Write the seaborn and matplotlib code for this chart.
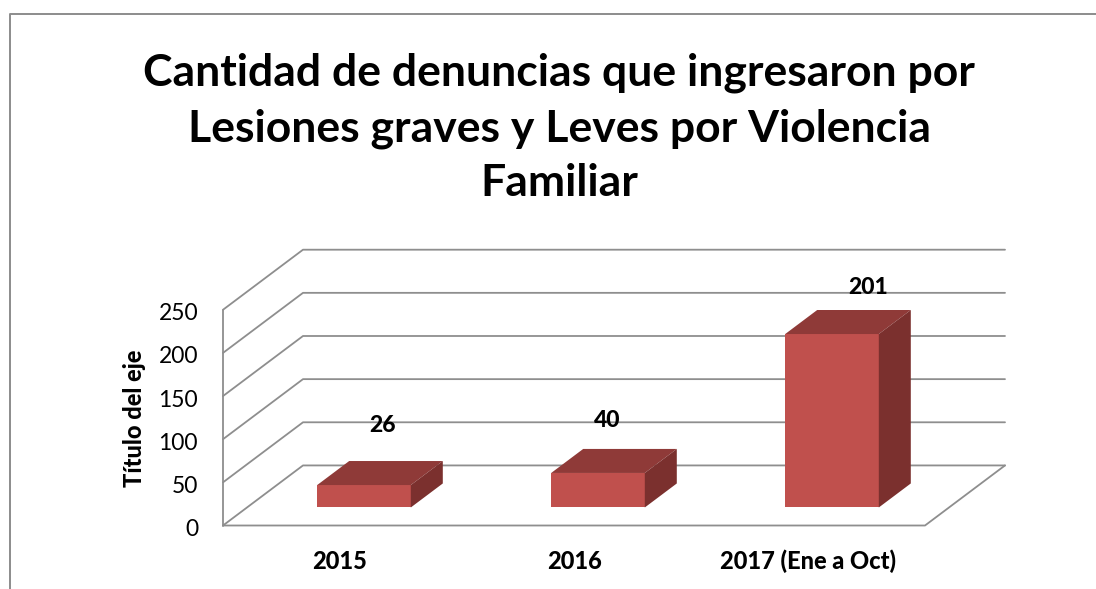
import matplotlib
matplotlib.use("Agg")
import matplotlib.pyplot as plt
from matplotlib.lines import Line2D
from matplotlib.transforms import ScaledTranslation
import seaborn as sns
import pandas as pd

categories = ["2015", "2016", "2017 (Ene a Oct)"]
values = [26, 40, 201]
y_ticks = [0, 50, 100, 150, 200, 250]
title = "Cantidad de denuncias que ingresaron por\nLesiones graves y Leves por Violencia\nFamiliar"
y_title = "Título del eje"

W, H = 1096, 589
# pixel geometry of the front plane of the fake 3D box
left, right, floor, top = 223, 1005, 525.5, 249.7
px_per_cat = 234.0
px_per_val = 0.862
depth_x = 80 / px_per_cat   # wall depth in data units
depth_y = 60 / px_per_val
grid_col = "#8e8e8e"

sns.set_style("white")
plt.rcParams["font.family"] = ["Lato", "DejaVu Sans"]

df = pd.DataFrame({"periodo": categories, "denuncias": values})

fig = plt.figure(figsize=(W / 100, H / 100), dpi=100)
ax = fig.add_axes([left / W, 1 - floor / H, (right - left) / W, (floor - top) / H])
sns.barplot(data=df, x="periodo", y="denuncias", color="#C0504D", saturation=1,
            width=0.4, ax=ax, zorder=3, edgecolor="none", linewidth=0)

x0 = -0.5
x1 = 2.5
ax.set_xlim(x0, x1 + depth_x)
ax.set_ylim(0, depth_y + 250)
sns.despine(ax=ax, left=True, bottom=True)

# walls
for v in y_ticks:
    ax.plot([x0, x0 + depth_x, x1 + depth_x], [v, v + depth_y, v + depth_y],
            color=grid_col, lw=1.3, zorder=1, clip_on=False)
ax.plot([x0, x0], [0, 250], color=grid_col, lw=1.3, zorder=1, clip_on=False)
ax.plot([x0, x1, x1 + depth_x], [0, 0, depth_y], color=grid_col, lw=1.3, zorder=1, clip_on=False)

# bars sit at 30% of the floor depth and take 40% of it
label_offsets = [(19, 60), (9, 52), (36, 47)]
for bar, val, off in zip(ax.patches, values, label_offsets):
    bar.set_x(bar.get_x() + 0.3 * depth_x)
    bar.set_y(0.3 * depth_y)
    bx, by = bar.get_x(), bar.get_y()
    bw, bh = bar.get_width(), bar.get_height()
    dx, dy = 0.4 * depth_x, 0.4 * depth_y
    ax.fill([bx, bx + bw, bx + bw + dx, bx + dx],
            [by + bh, by + bh, by + bh + dy, by + bh + dy],
            color="#8F3A38", lw=0, zorder=3)
    ax.fill([bx + bw, bx + bw + dx, bx + bw + dx, bx + bw],
            [by, by + dy, by + bh + dy, by + bh],
            color="#7B302E", lw=0, zorder=3)
    ax.annotate(str(val), (bx + bw / 2, by + bh), xytext=off, textcoords="offset pixels",
                ha="center", va="center", fontsize=16.5, fontweight=900, color="black", zorder=4)

ax.set_yticks(y_ticks)
ax.set_yticklabels([str(v) for v in y_ticks], fontsize=16.5, color="black")
ax.tick_params(axis="y", length=0, pad=18)
ax.tick_params(axis="x", length=0, pad=17.5)
shift = ScaledTranslation(0, -2 / 100, fig.dpi_scale_trans)
for lab in ax.get_yticklabels():
    lab.set_transform(lab.get_transform() + shift)
for lab in ax.get_xticklabels():
    lab.set_fontsize(17)
    lab.set_fontweight(900)
    lab.set_color("black")
ax.set_xlabel("")
ax.set_ylabel("")
fig.text(134 / W, 1 - 418 / H, y_title, rotation=90, ha="center", va="center",
         fontsize=17, fontweight=900, color="black")

fig.text(559 / W, 1 - 128 / H, title, ha="center", va="center", fontsize=32,
         fontweight="bold", color="black", linespacing=1.45)

# chart frame, cut off by the crop on the right and bottom
fig.add_artist(Line2D([9.5 / W, 9.5 / W, 1], [0, 1 - 14 / H, 1 - 14 / H], color="#8c8c8c", lw=1.4))

fig.savefig("out.png", dpi=100)
